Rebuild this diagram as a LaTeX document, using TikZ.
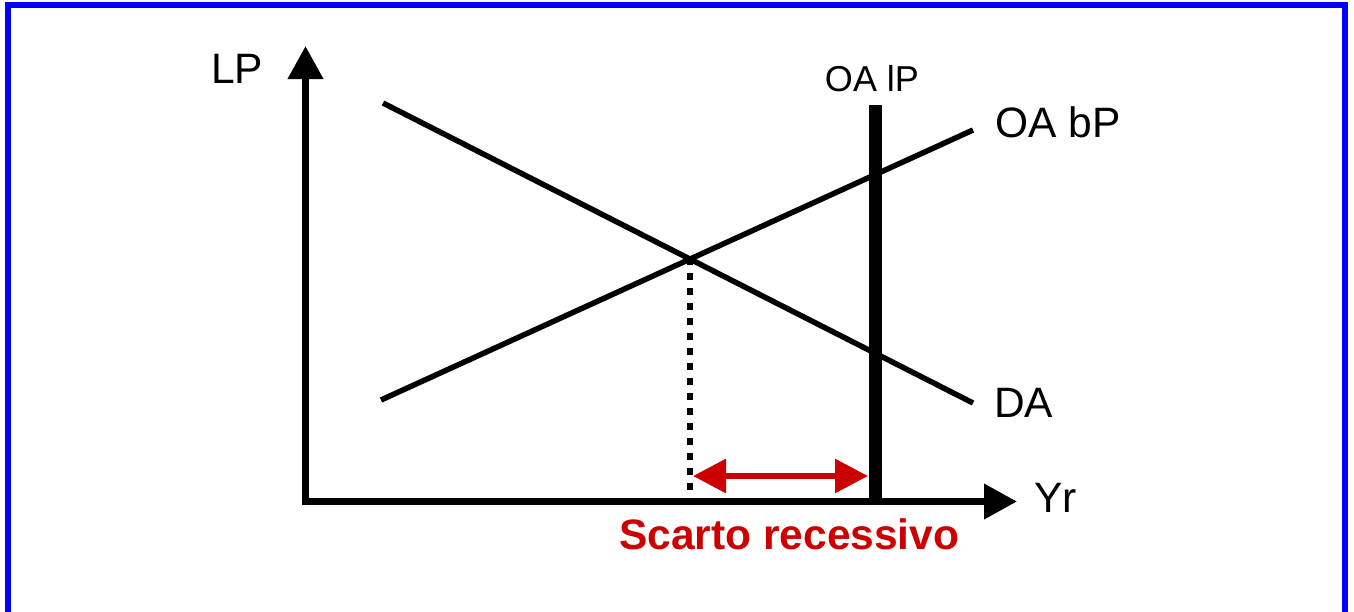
\documentclass[tikz,border=0pt]{standalone}
\usepackage{fontspec}
\setmainfont{Liberation Sans}
\usetikzlibrary{arrows.meta}
\definecolor{frameblue}{RGB}{0,0,255}
\definecolor{gapred}{RGB}{204,0,0}
\tikzset{
  axis/.style={line width=7pt,-{Triangle[length=33pt,width=34pt]}},
  curve/.style={line width=5.5pt},
  lpline/.style={line width=13pt},
  dropline/.style={line width=6.5pt,dash pattern=on 7pt off 8pt},
  gaparrow/.style={line width=6pt,draw=gapred,{Triangle[length=33pt,width=33pt,fill=gapred]}-{Triangle[length=33pt,width=33pt,fill=gapred]}},
  lbl/.style={inner sep=0pt,anchor=base west,font=\fontsize{42.5}{50}\selectfont},
  smalllbl/.style={inner sep=0pt,anchor=base,font=\fontsize{36}{43}\selectfont},
  redlbl/.style={lbl,text=gapred,font=\fontsize{42.5}{50}\selectfont\bfseries}
}
\begin{document}
\begin{tikzpicture}[x=1pt,y=-1pt]
\useasboundingbox (0,0) rectangle (1354,611);
\begin{scope}
\clip (0,0) rectangle (1354,611);
\draw[frameblue,line width=6pt] (8,5) rectangle (1345,640);
\end{scope}
% coordinates
\coordinate (O) at (302,501.5);
\coordinate (Oy) at (305.5,505);
\coordinate (ytip) at (305.5,46);
\coordinate (xtip) at (1017,501.5);
\coordinate (da1) at (383,103);
\coordinate (da2) at (973,403);
\coordinate (ob1) at (381,400);
\coordinate (ob2) at (973,130);
\coordinate (lptop) at (875,105);
\coordinate (lpbot) at (875,498);
\coordinate (eq) at (690,258);
\coordinate (eqbot) at (690,498);
\coordinate (gapL) at (693,476);
\coordinate (gapR) at (868,476);
% axes
\draw[axis] (Oy) -- (ytip);
\draw[axis] (O) -- (xtip);
% curves
\draw[curve] (da1) -- (da2);
\draw[curve] (ob1) -- (ob2);
\draw[lpline] (lptop) -- (lpbot);
\draw[dropline] (eq) -- (eqbot);
\draw[gaparrow] (gapL) -- (gapR);
% labels
\node[lbl] (lp) at (211,83) {LP};
\node[smalllbl] (oalp) at (872,91) {OA lP};
\node[lbl] (oabp) at (995,137) {OA bP};
\node[lbl] (da) at (994,417) {DA};
\node[lbl] (yr) at (1034,512) {Yr};
\node[redlbl] (sr) at (619,549) {Scarto recessivo};
\end{tikzpicture}
\end{document}
